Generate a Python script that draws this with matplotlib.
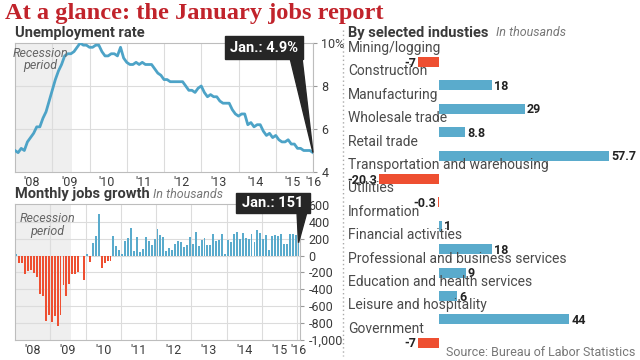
import numpy as np
import matplotlib
matplotlib.use("Agg")
import matplotlib.pyplot as plt
from matplotlib.patches import Polygon, Rectangle

# --- data -------------------------------------------------------------
# monthly unemployment rate, Jan 2008 .. Jan 2016
unemp = [5.0, 4.9, 5.1, 5.0, 5.4, 5.6, 5.8, 6.1, 6.1, 6.5, 6.8, 7.3,
         7.8, 8.3, 8.7, 9.0, 9.4, 9.5, 9.5, 9.6, 9.8, 10.0, 9.9, 9.9,
         9.8, 9.8, 9.9, 9.9, 9.6, 9.4, 9.4, 9.5, 9.5, 9.4, 9.8, 9.3,
         9.1, 9.0, 9.0, 9.1, 9.0, 9.1, 9.0, 9.0, 9.0, 8.8, 8.6, 8.5,
         8.3, 8.3, 8.2, 8.2, 8.2, 8.2, 8.2, 8.0, 7.8, 7.8, 7.7, 7.9,
         8.0, 7.7, 7.5, 7.6, 7.5, 7.5, 7.3, 7.2, 7.2, 7.2, 6.9, 6.7,
         6.6, 6.7, 6.7, 6.2, 6.3, 6.1, 6.2, 6.2, 5.9, 5.7, 5.8, 5.6,
         5.7, 5.5, 5.4, 5.4, 5.5, 5.3, 5.3, 5.1, 5.1, 5.0, 5.0, 5.0,
         4.9]

# monthly change in payrolls (thousands), Jan 2008 .. Jan 2016
jobs = [14, -90, -85, -220, -180, -170, -210, -260, -460, -480, -770, -700,
        -790, -710, -830, -700, -350, -480, -340, -220, -220, -200, -10, -290,
        20, -80, 150, 230, 490, -150, -90, -60, -70, 230, 110, 70,
        20, 170, 210, 320, 50, 220, 40, 80, 220, 170, 130, 200,
        310, 240, 220, 50, 90, 70, 140, 170, 160, 100, 120, 220,
        140, 280, 110, 180, 210, 120, 120, 260, 170, 180, 260, 20,
        180, 160, 250, 280, 200, 270, 210, 200, 260, 160, 300, 270,
        200, 240, 60, 230, 240, 230, 250, 140, 140, 250, 260, 240,
        151]

year_labels = ["'08", "'09", "'10", "'11", "'12", "'13", "'14", "'15", "'16"]

industries = ["Mining/logging", "Construction", "Manufacturing", "Wholesale trade",
              "Retail trade", "Transportation and warehousing", "Utilities",
              "Information", "Financial activities",
              "Professional and business services",
              "Education and health services", "Leisure and hospitality",
              "Government"]
ind_values = [-7, 18, 29, 8.8, 57.7, -20.3, -0.3, 1, 18, 9, 6, 44, -7]
ind_labels = ["-7", "18", "29", "8.8", "57.7", "-20.3", "-0.3", "1", "18",
              "9", "6", "44", "-7"]

BLUE = "#5aabcc"
LINE = "#4da3c7"
RED = "#ee4f31"
GRID = "#dcdcdc"
TXT = "#3a3a3a"
FONT = "Roboto"

W, H = 640, 360
fig = plt.figure(figsize=(6.4, 3.6), dpi=100)
fig.patch.set_facecolor("white")


def ax_px(x0, y0, x1, y1):
    return fig.add_axes([x0 / W, 1 - y1 / H, (x1 - x0) / W, (y1 - y0) / H])


def style_frame(ax):
    for s in ax.spines.values():
        s.set_color("#bdbdbd")
        s.set_linewidth(0.8)
    ax.tick_params(axis="y", which="both", right=True, left=False,
                   labelright=True, labelleft=False, length=3,
                   color="#999999", labelsize=9, labelcolor=TXT, pad=3)
    ax.tick_params(axis="x", length=0, labelsize=9, labelcolor=TXT, pad=3)
    for lab in ax.get_xticklabels() + ax.get_yticklabels():
        lab.set_fontfamily(FONT)


months = np.arange(len(unemp))
mid_years = [5.5 + 12 * i for i in range(8)] + [96]
jan_ticks = [12 * i for i in range(1, 9)]

# --- unemployment rate -------------------------------------------------
ax1 = ax_px(15, 43, 313, 172)
ax1.axvspan(0, 18.5, color="#efefef", zorder=0, lw=0)
for t in jan_ticks:
    ax1.axvline(t, color=GRID, lw=0.8, zorder=1)
for v in [6, 8]:
    ax1.axhline(v, color=GRID, lw=0.8, zorder=1)
ax1.plot(months, unemp, color=LINE, lw=2, zorder=3, solid_joinstyle="round")
ax1.set_xlim(0, 96)
ax1.set_ylim(4, 10)
ax1.set_yticks([4, 6, 8, 10])
ax1.set_yticklabels(["4", "6", "8", "10%"])
ax1.set_xticks(mid_years)
ax1.set_xticklabels(year_labels)
style_frame(ax1)
ax1.text(0.085, 0.97, "Recession\nperiod", transform=ax1.transAxes,
         ha="center", va="top", multialignment="center", fontsize=9,
         style="italic", color="#666666", family=FONT, linespacing=0.95)

# --- monthly jobs growth -----------------------------------------------
ax2 = ax_px(15, 204, 300, 340)
ax2.axvspan(-0.5, 18.5, color="#efefef", zorder=0, lw=0)
for t in jan_ticks:
    ax2.axvline(t - 0.5, color=GRID, lw=0.8, zorder=1)
for v in range(-800, 600, 200):
    ax2.axhline(v, color=GRID, lw=0.8, zorder=1)
jm = np.arange(len(jobs))
ax2.bar(jm, jobs, width=0.65, color=[RED if v < 0 else BLUE for v in jobs],
        zorder=3, lw=0)
ax2.set_xlim(-0.5, 96.5)
ax2.set_ylim(-1000, 610)
yt = list(range(-1000, 601, 200))
ax2.set_yticks(yt)
ax2.set_yticklabels(["-1,000" if v == -1000 else str(v) for v in yt])
ax2.set_xticks(mid_years)
ax2.set_xticklabels(year_labels)
style_frame(ax2)
ax2.text(0.113, 0.94, "Recession\nperiod", transform=ax2.transAxes,
         ha="center", va="top", multialignment="center", fontsize=9,
         style="italic", color="#666666", family=FONT, linespacing=0.95)

# --- industries --------------------------------------------------------
ax3 = ax_px(345, 30, 640, 355)
zero_px, unit_px, row0, row_px = 439, 2.95, 62, 23.4
ax3.set_xlim(-(zero_px - 345) / unit_px, (640 - zero_px) / unit_px)
ax3.set_ylim((355 - row0) / row_px, (30 - row0) / row_px)
ax3.axis("off")
rows = np.arange(len(industries))
ax3.barh(rows, ind_values, height=0.43,
         color=[RED if v < 0 else BLUE for v in ind_values], lw=0)
x_left = ax3.get_xlim()[0] + 1
for i, (name, v, lab) in enumerate(zip(industries, ind_values, ind_labels)):
    ax3.text(x_left, i - 0.6, name, ha="left", va="center", fontsize=10,
             color="#4a4a4a", family=FONT)
    if v < 0:
        ax3.text(v - 0.8, i + 0.05, lab, ha="right", va="center", fontsize=9,
                 fontweight="bold", color="#222222", family=FONT)
    else:
        ax3.text(v + 0.8, i + 0.05, lab, ha="left", va="center", fontsize=9,
                 fontweight="bold", color="#222222", family=FONT)

# --- overlay for titles and callouts -----------------------------------
ov = fig.add_axes([0, 0, 1, 1], zorder=10)
ov.set_xlim(0, W)
ov.set_ylim(H, 0)
ov.axis("off")
ov.patch.set_alpha(0)


def to_px(ax, x, y):
    dx, dy = ax.transData.transform((x, y))
    return dx, H - dy


ov.text(5, 14, "At a glance: the January jobs report", fontsize=17.6,
        fontweight="bold", color="#c1232b", family="Liberation Serif",
        ha="left", va="center")
ov.text(15, 33, "Unemployment rate", fontsize=10.5, fontweight="bold",
        color=TXT, family=FONT, ha="left", va="center")
ov.text(15, 194, "Monthly jobs growth", fontsize=10.5, fontweight="bold",
        color=TXT, family=FONT, ha="left", va="center")
ov.text(153, 194, "In thousands", fontsize=9, style="italic", color="#777777",
        family=FONT, ha="left", va="center")
ov.text(348, 33, "By selected industies", fontsize=10.5, fontweight="bold",
        color=TXT, family=FONT, ha="left", va="center")
ov.text(496, 33, "In thousands", fontsize=9, style="italic", color="#777777",
        family=FONT, ha="left", va="center")
ov.text(635, 353, "Source: Bureau of Labor Statistics", fontsize=9,
        color="#777777", family=FONT, ha="right", va="center")
ov.plot([343, 343], [30, 356], color="#aaaaaa", lw=1, ls=(0, (1, 2)))

# callout boxes
tip1 = to_px(ax1, 96, unemp[-1])
ov.add_patch(Polygon([(290, 58), (302, 58), tip1], closed=True,
                     color="#262626", zorder=5))
ov.add_patch(Rectangle((225, 36), 78, 23, color="#262626", zorder=5))
ov.text(264, 47.5, "Jan.: 4.9%", color="white", fontsize=10.5,
        fontweight="bold", family=FONT, ha="center", va="center", zorder=6)

tip2 = to_px(ax2, 96, jobs[-1])
ov.add_patch(Polygon([(297, 212), (307, 212), tip2], closed=True,
                     color="#262626", zorder=5))
ov.add_patch(Rectangle((236, 193), 74, 20, color="#262626", zorder=5))
ov.text(273, 203, "Jan.: 151", color="white", fontsize=10.5,
        fontweight="bold", family=FONT, ha="center", va="center", zorder=6)

fig.savefig("out.png", dpi=100)
